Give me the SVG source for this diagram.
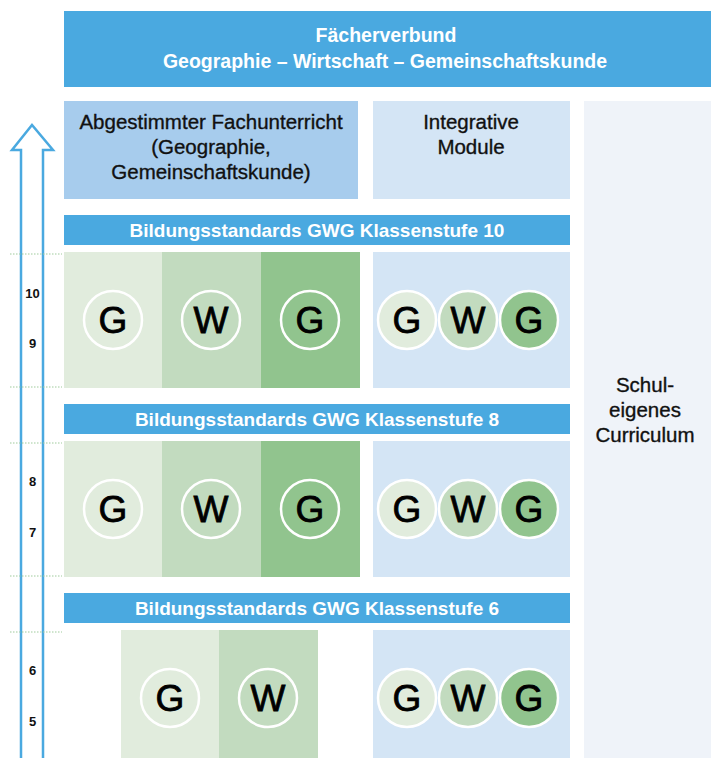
<svg xmlns="http://www.w3.org/2000/svg" width="711" height="758" viewBox="0 0 711 758">
<style>
.blue{fill:#4aa9e0}
.lt{fill:#a7cced}
.pale{fill:#d4e5f5}
.g1{fill:#e1ecdd}.g2{fill:#c2dbbf}.g3{fill:#91c48e}
.t{font-family:"Liberation Sans",Arial,sans-serif;text-anchor:middle}
.wh{fill:#fff;font-weight:bold;font-size:19px}
.hd{font-size:19.5px}
.bk{fill:#111;font-size:20.5px;stroke:#111;stroke-width:0.35}
.ring{fill:none;stroke:#fff;stroke-width:2.5}
.cg{stroke:#fff;stroke-width:2.5}
.L{font-family:"Liberation Sans",Arial,sans-serif;text-anchor:middle;font-size:37px;fill:#000;stroke:#000;stroke-width:0.8}
.num{font-family:"Liberation Sans",Arial,sans-serif;text-anchor:middle;font-size:13px;font-weight:bold;fill:#111}
.dot{stroke:#9fcb9c;stroke-width:1;stroke-dasharray:1.5 1.5}
</style>
<rect width="711" height="758" fill="#fff"/>
<g id="curriculum">
<rect x="584" y="101" width="127" height="657" fill="#eff3f9"/>
<text class="t bk" x="645" y="392">Schul-</text>
<text class="t bk" x="645" y="417">eigenes</text>
<text class="t bk" x="645" y="442">Curriculum</text>
</g>
<g id="header">
<rect class="blue" x="64" y="11" width="647" height="76"/>
<text class="t wh hd" x="386" y="42">Fächerverbund</text>
<text class="t wh hd" x="385" y="68">Geographie – Wirtschaft – Gemeinschaftskunde</text>
</g>
<g id="fachunterricht">
<rect class="lt" x="64" y="101" width="294" height="98"/>
<text class="t bk" x="211" y="129">Abgestimmter Fachunterricht</text>
<text class="t bk" x="211" y="154">(Geographie,</text>
<text class="t bk" x="211" y="179">Gemeinschaftskunde)</text>
</g>
<g id="module">
<rect class="pale" x="373" y="101" width="197" height="98"/>
<text class="t bk" x="471" y="129">Integrative</text>
<text class="t bk" x="471" y="154">Module</text>
</g>
<g id="arrow">
<path d="M21,760 L21,150 L12,150 L32,125 L53,150 L43,150 L43,760" fill="#fff" stroke="#4aa9e0" stroke-width="2.5"/>
</g>
<g id="guides">
<line class="dot" x1="10" y1="254" x2="62" y2="254"/>
<line class="dot" x1="10" y1="387" x2="62" y2="387"/>
<line class="dot" x1="10" y1="443" x2="62" y2="443"/>
<line class="dot" x1="10" y1="576" x2="62" y2="576"/>
<line class="dot" x1="10" y1="632" x2="62" y2="632"/>
<text class="num" x="32.5" y="298">10</text>
<text class="num" x="32.5" y="348">9</text>
<text class="num" x="32.5" y="486">8</text>
<text class="num" x="32.5" y="537">7</text>
<text class="num" x="32.5" y="675">6</text>
<text class="num" x="32.5" y="726">5</text>
</g>
<g id="band10">
<rect class="blue" x="64" y="215" width="506" height="30"/>
<text class="t wh" x="317" y="237">Bildungsstandards GWG Klassenstufe 10</text>
</g>
<g id="fach10">
<rect class="g1" x="64" y="252" width="98" height="136"/>
<rect class="g2" x="162" y="252" width="99" height="136"/>
<rect class="g3" x="261" y="252" width="99" height="136"/>
<circle class="ring" cx="113" cy="320" r="29"/>
<circle class="ring" cx="211" cy="320" r="29"/>
<circle class="ring" cx="310" cy="320" r="29"/>
<text class="L" x="113" y="333">G</text>
<text class="L" x="211" y="333">W</text>
<text class="L" x="310" y="333">G</text>
</g>
<g id="modul10">
<rect class="pale" x="373" y="252" width="197" height="136"/>
<circle class="g1 cg" cx="407" cy="320" r="29"/>
<circle class="g2 cg" cx="468" cy="320" r="29"/>
<circle class="g3 cg" cx="529" cy="320" r="29"/>
<text class="L" x="407" y="333">G</text>
<text class="L" x="468" y="333">W</text>
<text class="L" x="529" y="333">G</text>
</g>
<g id="band8">
<rect class="blue" x="64" y="404" width="506" height="30"/>
<text class="t wh" x="317" y="426">Bildungsstandards GWG Klassenstufe 8</text>
</g>
<g id="fach8">
<rect class="g1" x="64" y="441" width="98" height="136"/>
<rect class="g2" x="162" y="441" width="99" height="136"/>
<rect class="g3" x="261" y="441" width="99" height="136"/>
<circle class="ring" cx="113" cy="509" r="29"/>
<circle class="ring" cx="211" cy="509" r="29"/>
<circle class="ring" cx="310" cy="509" r="29"/>
<text class="L" x="113" y="522">G</text>
<text class="L" x="211" y="522">W</text>
<text class="L" x="310" y="522">G</text>
</g>
<g id="modul8">
<rect class="pale" x="373" y="441" width="197" height="136"/>
<circle class="g1 cg" cx="407" cy="509" r="29"/>
<circle class="g2 cg" cx="468" cy="509" r="29"/>
<circle class="g3 cg" cx="529" cy="509" r="29"/>
<text class="L" x="407" y="522">G</text>
<text class="L" x="468" y="522">W</text>
<text class="L" x="529" y="522">G</text>
</g>
<g id="band6">
<rect class="blue" x="64" y="593" width="506" height="30"/>
<text class="t wh" x="317" y="615">Bildungsstandards GWG Klassenstufe 6</text>
</g>
<g id="fach6">
<rect class="g1" x="121" y="630" width="98" height="128"/>
<rect class="g2" x="219" y="630" width="99" height="128"/>
<circle class="ring" cx="170" cy="698" r="29"/>
<circle class="ring" cx="268" cy="698" r="29"/>
<text class="L" x="170" y="711">G</text>
<text class="L" x="268" y="711">W</text>
</g>
<g id="modul6">
<rect class="pale" x="373" y="630" width="197" height="128"/>
<circle class="g1 cg" cx="407" cy="698" r="29"/>
<circle class="g2 cg" cx="468" cy="698" r="29"/>
<circle class="g3 cg" cx="529" cy="698" r="29"/>
<text class="L" x="407" y="711">G</text>
<text class="L" x="468" y="711">W</text>
<text class="L" x="529" y="711">G</text>
</g>
</svg>
